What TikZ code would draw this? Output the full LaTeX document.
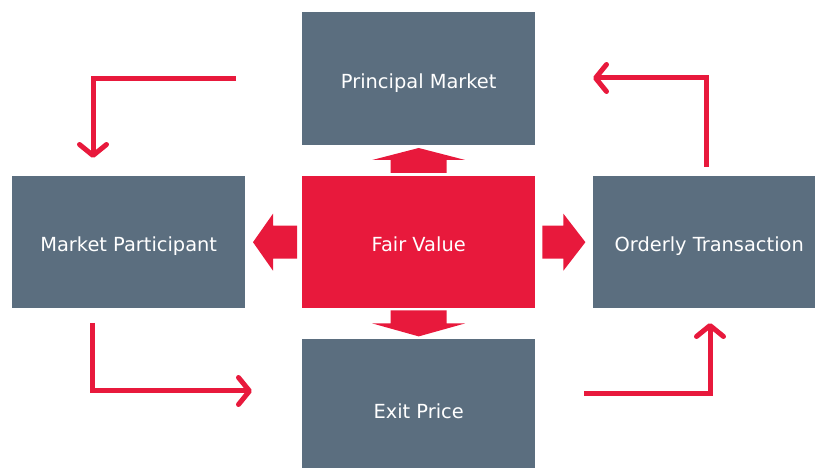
\documentclass[tikz,border=0pt]{standalone}
\usepackage{fontspec}
\setmainfont{DejaVu Sans}
\usetikzlibrary{arrows.meta,calc}
\definecolor{slate}{HTML}{5B6E7F}
\definecolor{fvred}{HTML}{E8193C}
\begin{document}
\begin{tikzpicture}[x=1pt,y=1pt,
  box/.style={fill=slate, text=white, inner sep=0pt, anchor=north west,
    text height=19pt, text depth=0pt,
    font=\fontsize{19.4}{23}\selectfont},
  redbox/.style={box, fill=fvred},
  blockarrow/.style={fill=fvred, draw=none},
  flow/.style={draw=fvred, line width=5pt,
    -{Straight Barb[length=11pt, width=27pt, line width=5pt, round]}}
]
\useasboundingbox (0,0) rectangle (815,468);
\clip (0,0) rectangle (815,468);

\node[box, minimum width=233pt, minimum height=133pt] (pm) at (302,456) {Principal Market};
\node[box, minimum width=233pt, minimum height=132pt] (mp) at (12,292) {Market Participant};
\node[redbox, minimum width=233pt, minimum height=132pt] (fv) at (302,292) {Fair Value};
\node[box, minimum width=232pt, minimum height=132pt] (ot) at (593,292) {Orderly Transaction};
\node[box, minimum width=233pt, minimum height=139pt] (ep) at (302,129) {Exit Price};

% block arrows out of Fair Value
\begin{scope}[shift={(fv.north)}]
  \fill[blockarrow] (-28,3) -- (28,3) -- (28,16) -- (46.5,16) -- (0,28) -- (-46.5,16) -- (-28,16) -- cycle;
\end{scope}
\begin{scope}[shift={(fv.south)}]
  \fill[blockarrow] (-28,-2) -- (28,-2) -- (28,-15) -- (46.5,-15) -- (0,-28) -- (-46.5,-15) -- (-28,-15) -- cycle;
\end{scope}
\begin{scope}[shift={(fv.west)}]
  \fill[blockarrow] (-5,16.5) -- (-5,-16.5) -- (-29,-16.5) -- (-29,-28.5) -- (-49,0) -- (-29,28.5) -- (-29,16.5) -- cycle;
\end{scope}
\begin{scope}[shift={(fv.east)}]
  \fill[blockarrow] (7,16.5) -- (7,-16.5) -- (28,-16.5) -- (28,-28.5) -- (50,0) -- (28,28.5) -- (28,16.5) -- cycle;
\end{scope}

% cycle connectors
\coordinate (a1s) at (236,389);
\coordinate (a1e) at (93,310);
\coordinate (a2s) at (92,145);
\coordinate (a2e) at (252,77);
\coordinate (a3s) at (584,74);
\coordinate (a3e) at (710,145);
\coordinate (a4s) at (706,301);
\coordinate (a4e) at (593,390);

\draw[flow] (a1s) -| (a1e);
\draw[flow] (a2s) |- (a2e);
\draw[flow] (a3s) -| (a3e);
\draw[flow] (a4s) |- (a4e);
\end{tikzpicture}
\end{document}
